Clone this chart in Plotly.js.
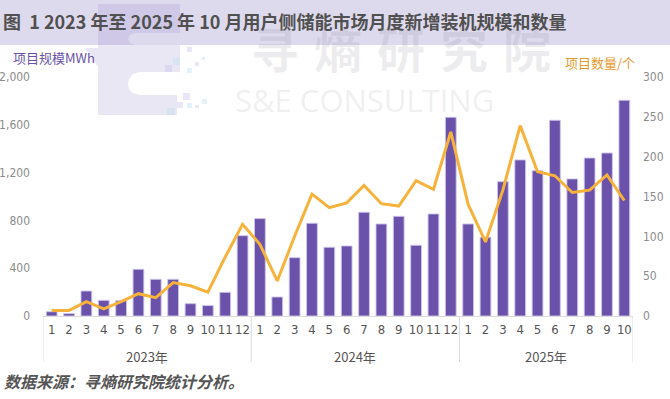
<!DOCTYPE html>
<html>
<head>
<meta charset="utf-8">
<script src="https://cdn.plot.ly/plotly-3.0.1.min.js"></script>
<style>html,body{margin:0;padding:0;background:#fff;}#chart{width:670px;height:399px;}</style>
</head>
<body>
<div id="chart"></div>
<script>
// ---- data ----
const years = ["2023年","2023年","2023年","2023年","2023年","2023年","2023年","2023年","2023年","2023年","2023年","2023年",
               "2024年","2024年","2024年","2024年","2024年","2024年","2024年","2024年","2024年","2024年","2024年","2024年",
               "2025年","2025年","2025年","2025年","2025年","2025年","2025年","2025年","2025年","2025年"];
const months = ["1","2","3","4","5","6","7","8","9","10","11","12",
                "1","2","3","4","5","6","7","8","9","10","11","12",
                "1","2","3","4","5","6","7","8","9","10"];
const scaleMWh = [36, 20, 209, 131, 128, 391, 307, 307, 103, 87, 198, 672,
                  815, 159, 488, 776, 575, 586, 868, 770, 834, 592, 854, 1663,
                  770, 659, 1124, 1306, 1216, 1638, 1147, 1322, 1364, 1805];
const projectCount = [7, 7, 18, 9, 18, 28, 23, 42, 38, 30, 74, 115,
                      90, 44, 100, 153, 136, 142, 164, 141, 138, 170, 159, 231,
                      140, 93, 158, 239, 181, 176, 155, 158, 177, 145];
const leftTicks = [0, 400, 800, 1200, 1600, 2000];
const rightTicks = [0, 50, 100, 150, 200, 250, 300];
const watermarkChars = ['寻','熵','研','究','院'];

// ---- layout helpers (pixel -> paper) ----
const W = 670, H = 399, ML = 43, MR = 37, MT = 77, MB = 83;
const PW = W - ML - MR, PH = H - MT - MB;
const px = x => (x - ML) / PW;
const py = y => (H - MB - y) / PH;

const CJK = '"Noto Sans CJK SC", "Noto Sans", sans-serif';
const NUM = '"Liberation Sans Narrow", "DejaVu Sans Condensed", "Roboto", sans-serif';

// unique category keys, labelled by month
const keys = years.map((y, i) => y + '-' + months[i]);

// year groups (start/end index) derived from the years array
const groups = [];
years.forEach((y, i) => {
  if (!groups.length || groups[groups.length - 1].year !== y) groups.push({year: y, start: i, end: i});
  else groups[groups.length - 1].end = i;
});

const traces = [
  {
    type: 'bar',
    x: keys,
    y: scaleMWh,
    marker: {color: '#6a51a9', line: {color: 'rgba(205,196,235,0.9)', width: 1}},
    hoverinfo: 'skip',
    yaxis: 'y'
  },
  {
    type: 'scatter',
    mode: 'lines',
    x: keys,
    y: projectCount,
    line: {color: '#f7b23b', width: 3},
    hoverinfo: 'skip',
    yaxis: 'y2'
  }
];

function pathFrom(pts) {
  return 'M ' + pts.map(p => px(p[0]) + ',' + py(p[1])).join(' L ') + ' Z';
}
const logoPts = [[98,4],[180,4],[180,33],[135,33],[130,35],[128,39],[130,43],[135,45],[180,45],[180,72],[140,72],
                 [133,74],[129,79],[128,84],[129,89],[133,93],[140,95],[177,95],[177,115],[98,115],[98,67],[85,48],[98,48]];
const squares = [[187,47,192,52],[173,58,180,65],[195,62,199,66],[202,57,205,60],[165,65,172,72],[187,68,192,73],
                 [177,102,183,108],[187,103,192,108],[195,105,199,108],[202,99,207,104],[183,93,190,100],[167,108,175,115]];

const shapes = [
  {type: 'rect', xref: 'paper', yref: 'paper', x0: px(0), x1: px(W), y0: py(45), y1: py(0),
   fillcolor: '#dedaee', line: {width: 0}, layer: 'below'},
  {type: 'path', xref: 'paper', yref: 'paper', path: pathFrom(logoPts),
   fillcolor: 'rgba(150,135,205,0.2)', line: {width: 0}, layer: 'below'}
].concat(squares.map((s, i) => ({type: 'rect', xref: 'paper', yref: 'paper',
   x0: px(s[0]), x1: px(s[2]), y0: py(s[3]), y1: py(s[1]),
   fillcolor: i % 2 ? 'rgba(190,225,245,0.45)' : 'rgba(200,195,235,0.4)', line: {width: 0}, layer: 'below'})))
// category dividers below the axis
.concat(groups.map(g => ({type: 'line', xref: 'x', yref: 'paper', x0: g.start - 0.5, x1: g.start - 0.5,
   y0: py(316), y1: py(362), line: {color: '#dcdcdc', width: 1}})))
.concat([{type: 'line', xref: 'x', yref: 'paper',
   x0: groups[groups.length - 1].end + 0.5, x1: groups[groups.length - 1].end + 0.5,
   y0: py(316), y1: py(362), line: {color: '#dcdcdc', width: 1}}]);

const annotations = watermarkChars.map((c, i) => ({
   text: c, xref: 'paper', yref: 'paper', x: px(275 + i * 63), y: py(47), xanchor: 'center', yanchor: 'middle',
   showarrow: false, font: {family: CJK, size: 48, weight: 'bold', color: 'rgba(110,110,120,0.12)'}
})).concat(groups.map(g => ({
   text: g.year, xref: 'x', yref: 'paper', x: (g.start + g.end) / 2, y: py(356), xanchor: 'center', yanchor: 'middle',
   showarrow: false, font: {family: CJK, size: 13, color: '#555555'}
}))).concat([
  {text: 'S&E CONSULTING', xref: 'paper', yref: 'paper', x: px(365), y: py(100), xanchor: 'center', yanchor: 'middle',
   showarrow: false, font: {family: '"Open Sans", "Noto Sans", sans-serif', size: 31, color: 'rgba(140,140,140,0.15)'}},
  {text: '项目规模MWh', xref: 'paper', yref: 'paper', x: px(11), y: py(57), xanchor: 'left', yanchor: 'middle',
   showarrow: false, font: {family: CJK, size: 13, color: '#6a51a9'}},
  {text: '项目数量/个', xref: 'paper', yref: 'paper', x: px(637), y: py(62), xanchor: 'right', yanchor: 'middle',
   showarrow: false, font: {family: CJK, size: 13, color: '#e59a2c'}},
  {text: '数据来源：寻熵研究院统计分析。', xref: 'paper', yref: 'paper', x: px(2), y: py(381), xanchor: 'left', yanchor: 'middle',
   showarrow: false, font: {family: CJK, size: 16, style: 'italic', weight: 'bold', color: '#555555'}}
]);

const layout = {
  width: W, height: H,
  margin: {l: ML, r: MR, t: MT, b: MB, pad: 0},
  paper_bgcolor: '#ffffff', plot_bgcolor: 'rgba(0,0,0,0)',
  showlegend: false,
  bargap: 0.38,
  title: {text: '图  1 2023 年至 2025 年 10 月用户侧储能市场月度新增装机规模和数量',
          xref: 'container', yref: 'container', x: 3 / W, xanchor: 'left', y: 1 - 23 / H, yanchor: 'middle',
          font: {family: CJK, size: 18, weight: 'bold', color: '#505050'}},
  xaxis: {
    type: 'category',
    tickvals: keys, ticktext: months,
    tickangle: 0,
    range: [-0.5, keys.length - 0.5],
    showline: true, linecolor: '#dcdcdc', linewidth: 1,
    showgrid: false, zeroline: false, ticks: '',
    ticklabelstandoff: 1,
    tickfont: {family: NUM, size: 13, color: '#555555'},
    fixedrange: true
  },
  yaxis: {
    range: [0, 2000], tickvals: leftTicks, tickformat: ',d',
    showgrid: false, zeroline: false, showline: false, ticks: '',
    ticklabelstandoff: 12,
    tickfont: {family: NUM, size: 12, color: '#8c8c8c'}
  },
  yaxis2: {
    overlaying: 'y', side: 'right',
    range: [0, 300], tickvals: rightTicks,
    showgrid: false, zeroline: false, showline: false, ticks: '',
    ticklabelstandoff: 9,
    tickfont: {family: NUM, size: 12, color: '#8c8c8c'}
  },
  shapes: shapes,
  annotations: annotations
};

Plotly.newPlot('chart', traces, layout, {displayModeBar: false, staticPlot: true});
</script>
</body>
</html>
